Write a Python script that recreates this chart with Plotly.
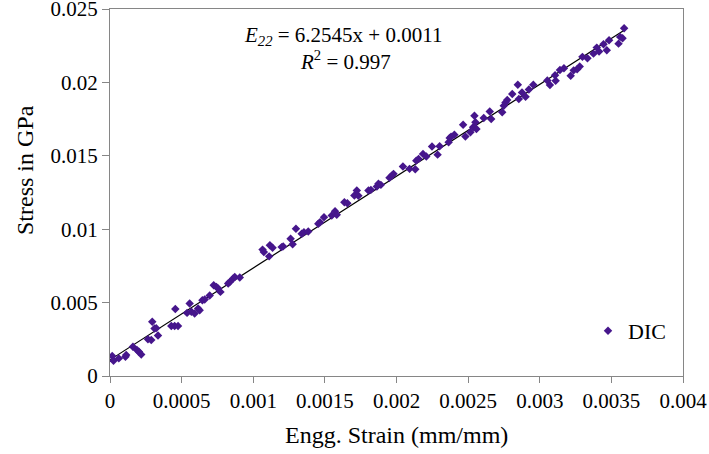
import plotly.graph_objects as go

strain = [0.0000154, 0.0000245, 0.0000616, 0.000108, 0.000113, 0.000160, 0.000188, 0.000202, 0.000218,
          0.000265, 0.000288, 0.000295, 0.000311, 0.000323, 0.000335, 0.000428, 0.000451, 0.000475,
          0.000456, 0.000538, 0.000556, 0.000568, 0.000591, 0.000615, 0.000626, 0.000645, 0.000661,
          0.000696, 0.000724, 0.000743, 0.000755, 0.000771, 0.000825, 0.000836, 0.000860, 0.000871,
          0.000906, 0.001065, 0.001074, 0.001111, 0.001116, 0.001135, 0.001198, 0.001209, 0.001261,
          0.001275, 0.001298, 0.001338, 0.001354, 0.001384, 0.001454, 0.001466, 0.001494, 0.001548,
          0.001571, 0.001583, 0.001636, 0.001657, 0.001706, 0.001723, 0.001734, 0.001804, 0.001821,
          0.001863, 0.001874, 0.001891, 0.001951, 0.001968, 0.001979, 0.002045, 0.002091, 0.002131,
          0.002138, 0.002154, 0.002185, 0.002208, 0.002248, 0.002287, 0.002301, 0.002364, 0.002371,
          0.002381, 0.002404, 0.002465, 0.002481, 0.002516, 0.002535, 0.002544, 0.002551, 0.002558,
          0.002609, 0.002651, 0.002661, 0.002738, 0.002749, 0.002761, 0.002773, 0.002808, 0.002847,
          0.002854, 0.002876, 0.002901, 0.002924, 0.002955, 0.003053, 0.003071, 0.003111, 0.003107,
          0.003141, 0.003169, 0.003216, 0.003237, 0.003261, 0.003279, 0.003298, 0.003333, 0.003375,
          0.003398, 0.003414, 0.003445, 0.003468, 0.003484, 0.003550, 0.003561, 0.003578, 0.003589]

stress = [0.00136, 0.00104, 0.00120, 0.00131, 0.00143, 0.00199, 0.00177, 0.00165, 0.00147,
          0.00251, 0.00245, 0.00369, 0.00324, 0.00326, 0.00276, 0.00340, 0.00340, 0.00340,
          0.00457, 0.00430, 0.00494, 0.00437, 0.00426, 0.00460, 0.00448, 0.00516, 0.00521,
          0.00548, 0.00618, 0.00607, 0.00596, 0.00573, 0.00630, 0.00641, 0.00664, 0.00675,
          0.00671, 0.00861, 0.00844, 0.00815, 0.00890, 0.00874, 0.00878, 0.00883, 0.00935,
          0.00897, 0.01003, 0.00969, 0.00980, 0.00985, 0.01037, 0.01048, 0.01082, 0.01094,
          0.01123, 0.01099, 0.01184, 0.01177, 0.01230, 0.01264, 0.01228, 0.01264, 0.01268,
          0.01291, 0.01309, 0.01302, 0.01350, 0.01365, 0.01377, 0.01427, 0.01411, 0.01409,
          0.01467, 0.01479, 0.01513, 0.01495, 0.01563, 0.01508, 0.01565, 0.01592, 0.01622,
          0.01630, 0.01644, 0.01712, 0.01631, 0.01660, 0.01694, 0.01773, 0.01728, 0.01683,
          0.01757, 0.01802, 0.01751, 0.01796, 0.01841, 0.01863, 0.01880, 0.01921, 0.01984,
          0.01887, 0.01931, 0.01902, 0.01951, 0.01984, 0.02013, 0.01983, 0.02011, 0.02048,
          0.02084, 0.02097, 0.02045, 0.02082, 0.02090, 0.02109, 0.02174, 0.02165, 0.02196,
          0.02237, 0.02210, 0.02260, 0.02219, 0.02287, 0.02264, 0.02310, 0.02301, 0.02369]

slope = 6.2545
intercept = 0.0011

x_tickvals = [0, 0.0005, 0.001, 0.0015, 0.002, 0.0025, 0.003, 0.0035, 0.004]
x_ticktext = ["0", "0.0005", "0.001", "0.0015", "0.002", "0.0025", "0.003", "0.0035", "0.004"]
y_tickvals = [0, 0.005, 0.01, 0.015, 0.02, 0.025]
y_ticktext = ["0", "0.005", "0.01", "0.015", "0.02", "0.025"]

FONT = "Liberation Serif, Times New Roman, serif"
PURPLE = "#46168C"
AXIS = "#868686"

L, R, T, B = 110, 26, 9, 78
W, H = 709, 454
PW, PH = W - L - R, H - T - B

def px(xp):
    return (xp - L) / PW

def py(yp):
    return (H - B - yp) / PH

x_fit = [0, max(strain)]
y_fit = [slope * v + intercept for v in x_fit]

fig = go.Figure()
fig.add_trace(go.Scatter(x=x_fit, y=y_fit, mode="lines",
                         line=dict(color="black", width=1.2), showlegend=False, hoverinfo="skip"))
fig.add_trace(go.Scatter(x=strain, y=stress, mode="markers", name="DIC",
                         marker=dict(symbol="diamond", size=6.5, color=PURPLE)))

fig.update_layout(
    width=W, height=H,
    margin=dict(l=L, r=R, t=T, b=B, autoexpand=False),
    paper_bgcolor="white", plot_bgcolor="white",
    font=dict(family=FONT, size=21, color="black"),
    showlegend=True,
    legend=dict(x=px(588), y=py(331), xanchor="left", yanchor="middle",
                bgcolor="rgba(0,0,0,0)", font=dict(family=FONT, size=22),
                itemwidth=30),
    xaxis=dict(range=[0, 0.004], tickvals=x_tickvals, ticktext=x_ticktext, automargin=False,
               showgrid=False, zeroline=False, showline=True, linecolor=AXIS, linewidth=1,
               mirror=True, ticks="outside", ticklen=6, tickcolor=AXIS,
               ticklabeloverflow="allow", tickfont=dict(family=FONT, size=21)),
    yaxis=dict(range=[0, 0.025], tickvals=y_tickvals, ticktext=y_ticktext, automargin=False,
               showgrid=False, zeroline=False, showline=True, linecolor=AXIS, linewidth=1,
               mirror=True, ticks="outside", ticklen=7, tickcolor=AXIS,
               ticklabeloverflow="allow", tickfont=dict(family=FONT, size=21)),
)

fig.add_annotation(xref="paper", yref="paper", x=px(396), y=py(435),
                   text="Engg. Strain (mm/mm)", showarrow=False,
                   xanchor="center", yanchor="middle", font=dict(family=FONT, size=24))
fig.add_annotation(xref="paper", yref="paper", x=px(25), y=py(170), textangle=-90,
                   text="Stress in GPa", showarrow=False,
                   xanchor="center", yanchor="middle", font=dict(family=FONT, size=24))
fig.add_annotation(xref="paper", yref="paper", x=px(343), y=py(36),
                   text="<i>E</i><sub><i>22</i></sub> = 6.2545x + 0.0011", showarrow=False,
                   xanchor="center", yanchor="middle", font=dict(family=FONT, size=21))
fig.add_annotation(xref="paper", yref="paper", x=px(345), y=py(60),
                   text="<i>R</i><sup>2</sup> = 0.997", showarrow=False,
                   xanchor="center", yanchor="middle", font=dict(family=FONT, size=21))

fig.write_html("out.html", config={"displayModeBar": False},
               post_script="document.body.style.margin='0';document.body.style.padding='0';")
